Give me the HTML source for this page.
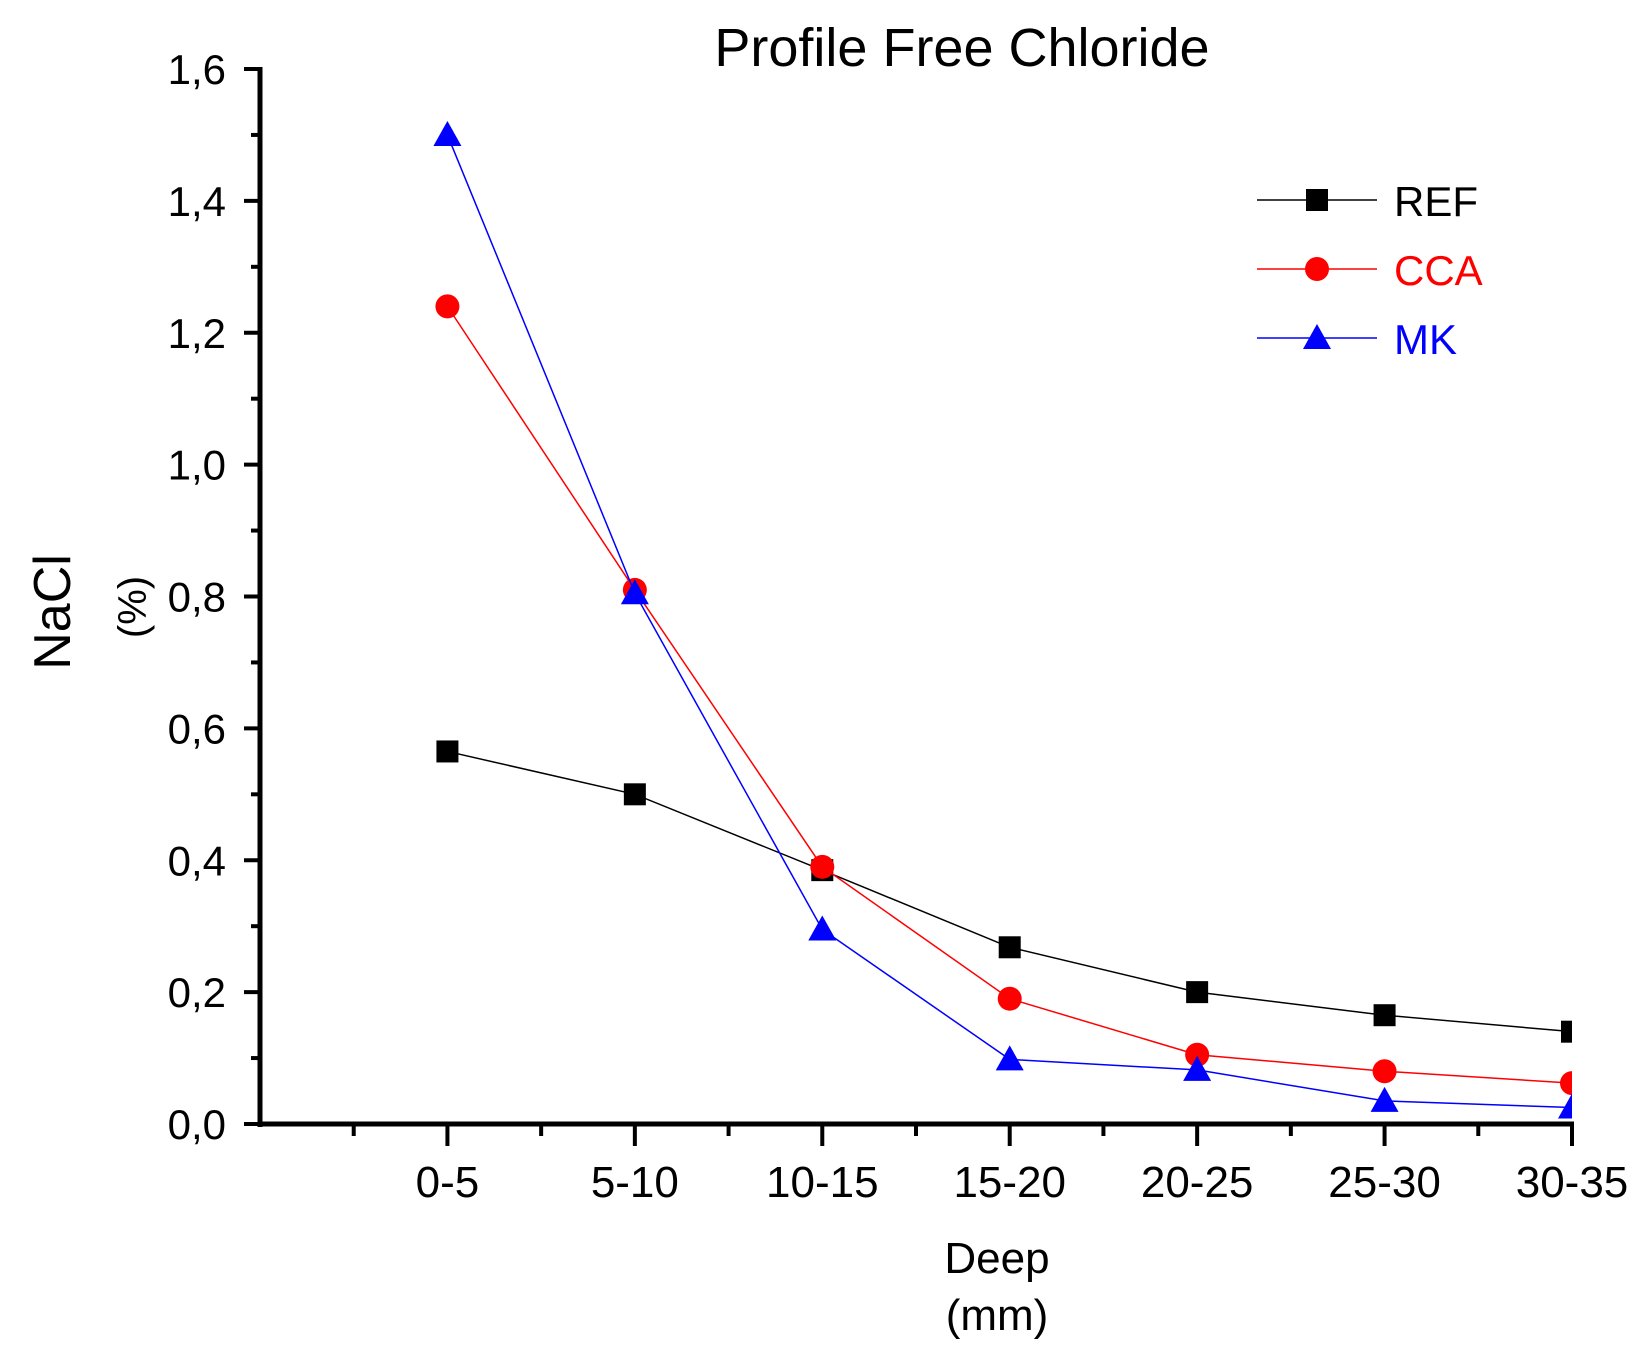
<!DOCTYPE html>
<html><head><meta charset="utf-8"><style>
html,body{margin:0;padding:0;background:#fff}
svg{display:block;font-family:"Liberation Sans",Arial,sans-serif}
</style></head><body>
<svg id="chart" width="1649" height="1351" viewBox="0 0 1649 1351">
<defs><clipPath id="plotclip"><rect x="200" y="20" width="1372" height="1130"/></clipPath></defs>
<text x="962" y="66" font-size="54" text-anchor="middle">Profile Free Chloride</text>
<g id="axes"></g>
<g id="series" clip-path="url(#plotclip)"></g>
<g id="legend"></g>
<text transform="translate(70,612) rotate(-90)" font-size="52" text-anchor="middle">NaCl</text>
<text transform="translate(146,607) rotate(-90)" font-size="40" text-anchor="middle">(%)</text>
<text x="997" y="1273" font-size="44" text-anchor="middle">Deep</text>
<text x="997" y="1330" font-size="44" text-anchor="middle">(mm)</text>
</svg>
<script>
const categories=["0-5","5-10","10-15","15-20","20-25","25-30","30-35"];
const refValues=[0.565,0.5,0.385,0.268,0.2,0.165,0.14];
const ccaValues=[1.24,0.81,0.39,0.19,0.105,0.08,0.062];
const mkValues=[1.5,0.805,0.295,0.098,0.082,0.035,0.025];
const yTicks=[0,0.2,0.4,0.6,0.8,1.0,1.2,1.4,1.6];
const yTickLabels=["0,0","0,2","0,4","0,6","0,8","1,0","1,2","1,4","1,6"];
const seriesNames=["REF","CCA","MK"];

const NS="http://www.w3.org/2000/svg";
const X0=260,X1=1572,Y0=1124,Y1=69;
const xs=i=>X0+(i+1)*(X1-X0)/7;
const ys=v=>Y0-(v/1.6)*(Y0-Y1);
function mk(tag,attrs,parent){const e=document.createElementNS(NS,tag);for(const k in attrs)e.setAttribute(k,attrs[k]);parent.appendChild(e);return e;}
const axes=document.getElementById('axes'),ser=document.getElementById('series'),leg=document.getElementById('legend');

let el=mk('line',{x1:X0,y1:Y1-2,x2:X0,y2:Y0+3,stroke:'#000','stroke-width':5},axes);


el=mk('line',{x1:X0-2,y1:Y0,x2:X1+2,y2:Y0,stroke:'#000','stroke-width':5},axes);


yTicks.forEach((v,i)=>{
  const y=ys(v);
  mk('line',{x1:X0-16,y1:y,x2:X0,y2:y,stroke:'#000','stroke-width':4},axes);
  if(i<yTicks.length-1){const ym=ys(v+0.1);mk('line',{x1:X0-9,y1:ym,x2:X0,y2:ym,stroke:'#000','stroke-width':4},axes);}
  const t=mk('text',{x:226,y:y+15,'font-size':42,'text-anchor':'end'},axes);t.textContent=yTickLabels[i];
  
  
});
for(let i=-1;i<categories.length;i++){
  const x=xs(i);
  if(i>=0)mk('line',{x1:x,y1:Y0,x2:x,y2:Y0+22,stroke:'#000','stroke-width':4},axes);
  const xm=x+(X1-X0)/14; if(xm<X1)mk('line',{x1:xm,y1:Y0,x2:xm,y2:Y0+12,stroke:'#000','stroke-width':4},axes);
}
categories.forEach((c,i)=>{
  const t=mk('text',{x:xs(i),y:1197,'font-size':44,'text-anchor':'middle'},axes);t.textContent=c;
  
  
});
function marker(type,x,y,color,parent){
  if(type==='square')return mk('rect',{x:x-11,y:y-11,width:22,height:22,fill:color},parent);
  if(type==='circle')return mk('circle',{cx:x,cy:y,r:12,fill:color},parent);
  return mk('polygon',{points:`${x},${y-14} ${x-14},${y+11} ${x+14},${y+11}`,fill:color},parent);
}
const defs=[[refValues,'#000','square'],[ccaValues,'#ff0000','circle'],[mkValues,'#0000ff','triangle']];
defs.forEach(([vals,col,type],si)=>{
  const g=mk('g',{},ser);
  
  
  mk('polyline',{points:vals.map((v,i)=>xs(i)+','+ys(v)).join(' '),fill:'none',stroke:col,'stroke-width':1.5},g);
  vals.forEach((v,i)=>{const m=marker(type,xs(i),ys(v),col,g);
    
    });
  const ly=200+si*69;
  const lg=mk('g',{},leg);
  
  
  mk('line',{x1:1257,y1:ly,x2:1377,y2:ly,stroke:col,'stroke-width':1.5},lg);
  marker(type,1317,ly,col,lg);
  const t=mk('text',{x:1394,y:ly+16,'font-size':42,fill:col},lg);t.textContent=seriesNames[si];
});
</script>
</body></html>
